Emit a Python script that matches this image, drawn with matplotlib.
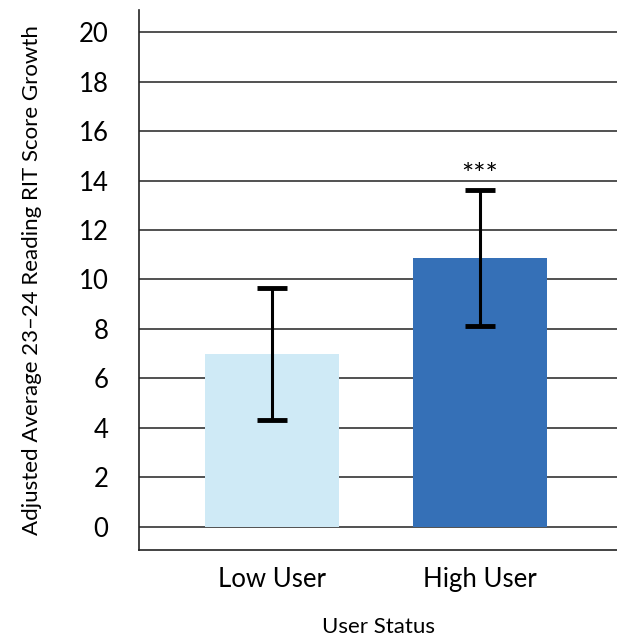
import numpy as np
import matplotlib.pyplot as plt

plt.rcParams['font.family'] = ['Lato', 'DejaVu Sans']

# datos
grupos = ["Low User", "High User"]
medias = [7.0, 10.87]
errores = [2.67, 2.73]
colores = ["#cfeaf6", "#3570b7"]
significancia = ["", "***"]
yticks = list(range(0, 21, 2))

fig = plt.figure(figsize=(6.17, 6.37), dpi=100)
ax = fig.add_axes([0.2253, 0.1366, 0.7747, 0.8477])

x = np.arange(len(grupos))
ax.bar(x, medias, width=0.645, color=colores, zorder=2)
ax.errorbar(x, medias, yerr=errores, fmt="none", ecolor="black",
            elinewidth=2.2, capsize=11, capthick=3.5, zorder=3)

# asteriscos
for xi, m, e, s in zip(x, medias, errores, significancia):
    if s:
        ax.text(xi, m + e + 0.05, s, ha="center", va="bottom", fontsize=21)

ax.set_xlim(-0.64, 1.66)
ax.set_ylim(-0.93, 20.89)
ax.set_yticks(yticks)
ax.set_yticklabels([str(t) for t in yticks], fontsize=18.5)
ax.set_xticks(x)
ax.set_xticklabels(grupos, fontsize=18.5)
ax.tick_params(axis="both", length=0)
ax.tick_params(axis="y", pad=22)
ax.tick_params(axis="x", pad=12)

ax.grid(axis="y", color="#333333", linewidth=1.2, zorder=0)
ax.set_axisbelow(True)
for lado in ["top", "right"]:
    ax.spines[lado].set_visible(False)
ax.spines["left"].set_color("#222222")
ax.spines["bottom"].set_color("#222222")
ax.spines["left"].set_linewidth(1.2)
ax.spines["bottom"].set_linewidth(1.2)

ax.set_xlabel("User Status", fontsize=16, labelpad=18)
ax.set_ylabel("Adjusted Average 23\u201324 Reading RIT Score Growth", fontsize=16, labelpad=26)

fig.savefig("out.png", dpi=100)
